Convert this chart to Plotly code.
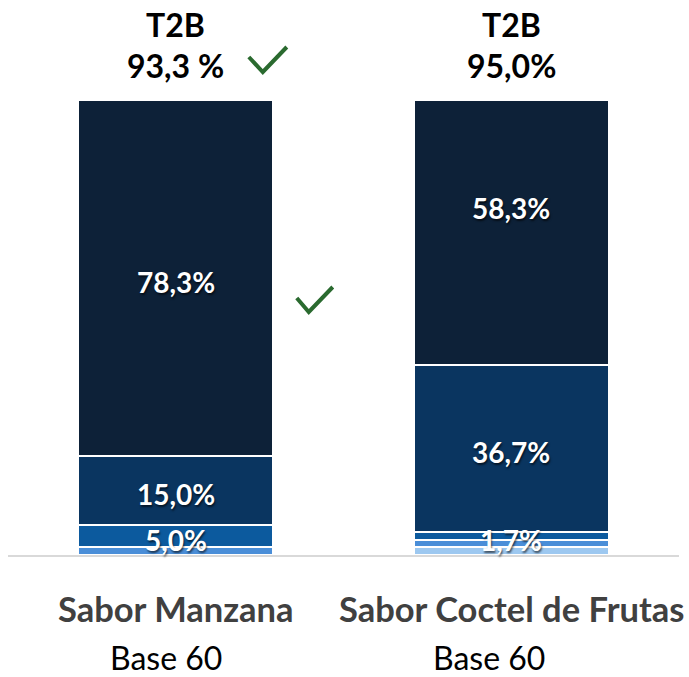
import plotly.graph_objects as go

categories = ["Sabor Manzana", "Sabor Coctel de Frutas"]
bases = ["Base 60", "Base 60"]
t2b = ["93,3 %", "95,0%"]

# stacked segments, bottom to top
s_light = [0.0, 1.7]
s_mid = [1.7, 1.7]
s_blue = [5.0, 1.7]
s_navy = [15.0, 36.7]
s_dark = [78.3, 58.3]

# which labels to show
show_light = [False, False]
show_mid = [False, True]
show_blue = [True, False]
show_navy = [True, True]
show_dark = [True, True]

colors = ["#9DC8F0", "#4A8ED8", "#0C5A9E", "#0A3560", "#0D2138"]
series = [s_light, s_mid, s_blue, s_navy, s_dark]
shows = [show_light, show_mid, show_blue, show_navy, show_dark]

FONT = "Lato"
W, H = 689, 677

def fmt(v):
    return f"{v:.1f}".replace(".", ",") + "%"

fig = go.Figure()
annotations = []
base = [0.0, 0.0]
for k, (vals, show, col) in enumerate(zip(series, shows, colors)):
    fig.add_trace(go.Bar(
        x=categories, y=vals,
        marker=dict(color=col, line=dict(color="white", width=2)),
        width=0.58, showlegend=False, hoverinfo="skip",
    ))
    for i, (v, s) in enumerate(zip(vals, show)):
        if s:
            if k == 4 and i == 1:
                shift = 24
            elif k == 1:
                shift = 3
            else:
                shift = -4
            annotations.append(dict(
                x=categories[i], y=base[i] + v / 2, xref="x", yref="y", text=fmt(v),
                showarrow=False, xanchor="center", yanchor="middle", yshift=shift,
                font=dict(family=FONT, size=28, color="white", weight="bold",
                          shadow="1px 2px 2px rgba(0,0,0,0.6)")))
        base[i] += v

# screen-pixel helpers for decorations (plot spans x 8..679.5, y 100..555)
L, R, T, B = 8, 679.5, 100, 555
def px(x):
    return (x - L) / (R - L)
def py(y):
    return (B - y) / (B - T)

for i, cat in enumerate(categories):
    annotations.append(dict(x=i, y=py(25), xref="x", yref="paper", text="<b>T2B</b>",
                            xanchor="center", yanchor="middle",
                            showarrow=False, font=dict(family=FONT, size=32, color="black")))
    annotations.append(dict(x=i, y=py(65), xref="x", yref="paper", text=f"<b>{t2b[i]}</b>",
                            xanchor="center", yanchor="middle",
                            showarrow=False, font=dict(family=FONT, size=32, color="black")))
    annotations.append(dict(x=i, y=py(608), xref="x", yref="paper", text=f"<b>{cat}</b>",
                            xanchor="center", yanchor="middle",
                            showarrow=False, font=dict(family=FONT, size=34.5, color="#404040")))
    annotations.append(dict(x=i, y=py(657), xref="x", yref="paper", text=bases[i],
                            xanchor="center", yanchor="middle", xshift=-10 if i == 0 else -22,
                            showarrow=False, font=dict(family=FONT, size=32, color="black")))

checks = [[(249, 57), (263, 72), (287, 47)], [(297, 298), (309, 312), (333, 287)]]
shapes = []
for c in checks:
    path = "M {} {} L {} {} L {} {}".format(px(c[0][0]), py(c[0][1]), px(c[1][0]), py(c[1][1]), px(c[2][0]), py(c[2][1]))
    shapes.append(dict(type="path", path=path, xref="paper", yref="paper",
                       line=dict(color="#2A6A2F", width=4)))

fig.update_layout(
    barmode="stack", bargap=0.42,
    width=W, height=H,
    margin=dict(l=L, r=W - R, t=T, b=H - B),
    plot_bgcolor="white", paper_bgcolor="white",
    xaxis=dict(range=[-0.5, 1.5], showticklabels=False, showline=True,
               linecolor="#D9D9D9", linewidth=2, showgrid=False, zeroline=False),
    yaxis=dict(range=[0, 100], visible=False),
    annotations=annotations, shapes=shapes,
)

fig.write_html("out.html", config={"displayModeBar": False},
               post_script="document.body.style.margin='0';document.body.style.overflow='hidden';")
